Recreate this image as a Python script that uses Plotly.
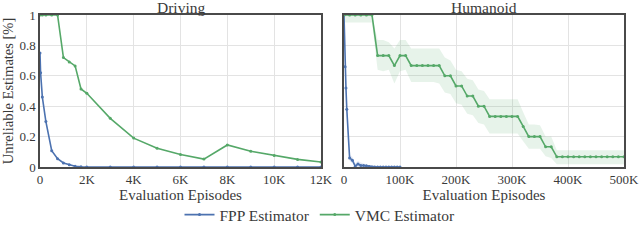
import plotly.graph_objects as go

# ---------------- Driving ----------------
drv_fpp_x = [0, 25, 100, 250, 500, 750, 1000, 1250, 1500, 1750, 2000, 3000, 4000, 5000,
             6000, 7000, 8000, 9000, 10000, 11000, 12000]
drv_fpp_y = [0.75, 0.62, 0.46, 0.30, 0.107, 0.055, 0.027, 0.015, 0.005, 0.002, 0.0, 0.0, 0.0,
             0.0, 0.0, 0.0, 0.0, 0.0, 0.0, 0.0, 0.0]
drv_vmc_x = [0, 100, 250, 500, 750, 1000, 1250, 1500, 1750, 2000, 3000, 4000, 5000,
             6000, 7000, 8000, 9000, 10000, 11000, 12000]
drv_vmc_y = [1.0, 1.0, 1.0, 1.0, 1.0, 0.72, 0.69, 0.665, 0.513, 0.485, 0.32, 0.19, 0.123,
             0.082, 0.052, 0.145, 0.103, 0.075, 0.05, 0.033]

# ---------------- Humanoid ----------------
hum_fpp_x = [0, 2000, 3500, 5000, 10000, 15000, 20000, 25000, 30000, 35000, 40000,
             45000, 50000, 55000, 60000, 65000, 70000, 75000, 80000, 85000, 90000, 95000, 100000]
hum_fpp_y = [1.0, 0.66, 0.52, 0.38, 0.06, 0.045, 0.005, 0.02, 0.01, 0.01, 0.008,
             0.003, 0.0, 0.0, 0.0, 0.0, 0.0, 0.0, 0.0, 0.0, 0.0, 0.0, 0.0]
hum_fpp_lo = [1.0, 0.62, 0.48, 0.34, 0.04, 0.025, 0.0, 0.0, 0.0, 0.0, 0.0,
              0.0, 0.0, 0.0, 0.0, 0.0, 0.0, 0.0, 0.0, 0.0, 0.0, 0.0, 0.0]
hum_fpp_hi = [1.0, 0.70, 0.56, 0.42, 0.08, 0.065, 0.025, 0.04, 0.03, 0.025, 0.02,
              0.01, 0.0, 0.0, 0.0, 0.0, 0.0, 0.0, 0.0, 0.0, 0.0, 0.0, 0.0]

hum_vmc_x = [i * 10000 for i in range(51)]
hum_vmc_y = [1.0, 1.0, 1.0, 1.0, 1.0, 1.0,            # 0-50K
             0.733, 0.733, 0.733, 0.667, 0.733, 0.733,  # 60-110K
             0.667, 0.667, 0.667, 0.667, 0.667, 0.667,  # 120-170K
             0.6, 0.6, 0.533, 0.533, 0.467, 0.467,      # 180-230K
             0.4, 0.4, 0.333, 0.333, 0.333, 0.333,      # 240-290K
             0.333, 0.333, 0.267, 0.2, 0.2, 0.2,        # 300-350K
             0.133, 0.133, 0.067, 0.067, 0.067, 0.067,  # 360-410K
             0.067, 0.067, 0.067, 0.067, 0.067, 0.067,  # 420-470K
             0.067, 0.067, 0.067]                       # 480-500K
hum_vmc_hi = [1.0, 1.0, 1.0, 1.0, 1.0, 1.0,
              0.835, 0.835, 0.82, 0.78, 0.835, 0.835,
              0.78, 0.78, 0.78, 0.78, 0.78, 0.78,
              0.72, 0.70, 0.64, 0.63, 0.58, 0.57,
              0.51, 0.50, 0.445, 0.445, 0.445, 0.445,
              0.445, 0.445, 0.36, 0.28, 0.28, 0.275,
              0.20, 0.20, 0.11, 0.11, 0.11, 0.11,
              0.11, 0.11, 0.11, 0.11, 0.11, 0.11,
              0.11, 0.11, 0.11]
hum_vmc_lo = [0.95, 0.95, 0.95, 0.95, 0.95, 0.95,
              0.64, 0.63, 0.64, 0.55, 0.63, 0.64,
              0.56, 0.56, 0.56, 0.56, 0.56, 0.55,
              0.49, 0.48, 0.42, 0.41, 0.35, 0.34,
              0.29, 0.28, 0.22, 0.22, 0.22, 0.22,
              0.22, 0.22, 0.17, 0.12, 0.12, 0.12,
              0.07, 0.06, 0.018, 0.018, 0.018, 0.018,
              0.018, 0.018, 0.018, 0.018, 0.018, 0.018,
              0.018, 0.018, 0.018]

drv_tickvals = [0, 2000, 4000, 6000, 8000, 10000, 12000]
drv_ticktext = ["0", "2K", "4K", "6K", "8K", "10K", "12K"]
hum_tickvals = [0, 100000, 200000, 300000, 400000, 500000]
hum_ticktext = ["0", "100K", "200K", "300K", "400K", "500K"]
y_tickvals = [0, 0.2, 0.4, 0.6, 0.8, 1.0]
y_ticktext = ["0", "0.2", "0.4", "0.6", "0.8", "1"]

BLUE = "#4C72B0"
GREEN = "#55A868"
FONT = "Liberation Serif"
TXT = "#3a3a3a"
W, H = 640, 242

fig = go.Figure()

line_kw = dict(width=1.6)
mk = dict(size=3, symbol="circle")

# Driving
fig.add_trace(go.Scatter(x=drv_fpp_x, y=drv_fpp_y, mode="lines+markers", name="FPP Estimator",
                         line=dict(color=BLUE, **line_kw), marker=dict(color=BLUE, **mk),
                         xaxis="x", yaxis="y", legendgroup="fpp"))
fig.add_trace(go.Scatter(x=drv_vmc_x, y=drv_vmc_y, mode="lines+markers", name="VMC Estimator",
                         line=dict(color=GREEN, **line_kw), marker=dict(color=GREEN, **mk),
                         xaxis="x", yaxis="y", legendgroup="vmc"))

# Humanoid bands
fig.add_trace(go.Scatter(x=hum_vmc_x + hum_vmc_x[::-1], y=hum_vmc_hi + hum_vmc_lo[::-1],
                         fill="toself", fillcolor="rgba(85,168,104,0.14)", line=dict(width=0),
                         mode="lines", hoverinfo="skip", showlegend=False,
                         xaxis="x2", yaxis="y2"))
fig.add_trace(go.Scatter(x=hum_fpp_x + hum_fpp_x[::-1], y=hum_fpp_hi + hum_fpp_lo[::-1],
                         fill="toself", fillcolor="rgba(76,114,176,0.14)", line=dict(width=0),
                         mode="lines", hoverinfo="skip", showlegend=False,
                         xaxis="x2", yaxis="y2"))
fig.add_trace(go.Scatter(x=hum_fpp_x, y=hum_fpp_y, mode="lines+markers", name="FPP Estimator",
                         line=dict(color=BLUE, **line_kw), marker=dict(color=BLUE, **mk),
                         xaxis="x2", yaxis="y2", legendgroup="fpp", showlegend=False))
fig.add_trace(go.Scatter(x=hum_vmc_x, y=hum_vmc_y, mode="lines+markers", name="VMC Estimator",
                         line=dict(color=GREEN, **line_kw), marker=dict(color=GREEN, **mk),
                         xaxis="x2", yaxis="y2", legendgroup="vmc", showlegend=False))

def px_x(p):
    return p / W

def px_y(p):
    return 1 - p / H

axis_common = dict(showline=True, mirror=True, linecolor="#4a4a4a", linewidth=1.5,
                   gridcolor="#e3e3e3", gridwidth=1, zeroline=False, ticks="",
                   automargin=False, ticklabeloverflow="allow",
                   tickfont=dict(family=FONT, size=13, color=TXT))

fig.update_layout(
    width=W, height=H,
    margin=dict(l=0, r=0, t=0, b=0, autoexpand=False),
    paper_bgcolor="white", plot_bgcolor="white",
    font=dict(family=FONT, size=13, color=TXT),
    xaxis=dict(domain=[px_x(40), px_x(321)], range=[0, 12000], tickvals=drv_tickvals,
               ticktext=drv_ticktext, anchor="y",
               title=dict(text="Evaluation Episodes", font=dict(family=FONT, size=15, color=TXT),
                          standoff=0),
               **axis_common),
    yaxis=dict(domain=[px_y(167), px_y(15)], range=[0, 1], tickvals=y_tickvals,
               ticktext=y_ticktext, anchor="x",
               title=dict(text="Unreliable Estimates [%]", font=dict(family=FONT, size=14.5, color=TXT),
                          standoff=4),
               **axis_common),
    xaxis2=dict(domain=[px_x(344), px_x(624)], range=[0, 500000], tickvals=hum_tickvals,
                ticktext=hum_ticktext, anchor="y2",
                title=dict(text="Evaluation Episodes", font=dict(family=FONT, size=15, color=TXT),
                           standoff=0),
                **axis_common),
    yaxis2=dict(domain=[px_y(167), px_y(15)], range=[0, 1], tickvals=y_tickvals,
                showticklabels=False, anchor="x2", **axis_common),
    legend=dict(orientation="h", x=0.5, xanchor="center", y=px_y(215), yanchor="middle",
                font=dict(family=FONT, size=15.5, color=TXT), itemwidth=30,
                bgcolor="rgba(0,0,0,0)"),
    annotations=[
        dict(text="Driving", x=(px_x(40) + px_x(321)) / 2, y=px_y(7.5), xref="paper", yref="paper",
             showarrow=False, xanchor="center", yanchor="middle",
             font=dict(family=FONT, size=15.5, color=TXT)),
        dict(text="Humanoid", x=(px_x(344) + px_x(624)) / 2, y=px_y(7.5), xref="paper", yref="paper",
             showarrow=False, xanchor="center", yanchor="middle",
             font=dict(family=FONT, size=15.5, color=TXT)),
    ],
)

fig.write_html("out.html", config={"displayModeBar": False},
               post_script="document.body.style.margin='0';document.body.style.padding='0';")
